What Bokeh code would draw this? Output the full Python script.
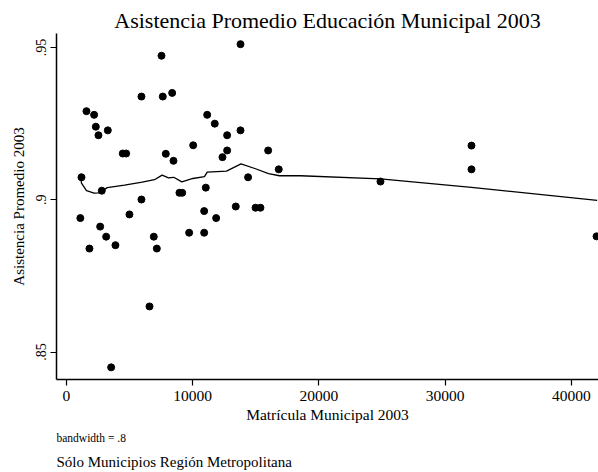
from bokeh.plotting import figure
from bokeh.models import Range1d, FixedTicker, Title
from bokeh.embed import file_html
from bokeh.resources import INLINE

# Municipal enrolment (2003) and average attendance, one entry per comuna
matricula = [1100, 1190, 1585, 2190, 2325, 2535, 3275, 2800, 2670, 3145,
             4460, 4730, 5940, 5940, 4990, 6920, 7530, 7630, 8375, 7870,
             8480, 8950, 9170, 9720, 10040, 10910, 11040, 10910, 11860, 11150,
             11750, 12730, 12730, 12360, 13790, 13790, 13415, 14390, 14980, 15370,
             15980, 16820, 24880, 32090, 32090, 42000, 1820, 3880, 7160, 6580,
             3540]
asistencia = [0.8940, 0.9074, 0.9291, 0.9279, 0.9240, 0.9212, 0.9228, 0.9030, 0.8912, 0.8879,
              0.9152, 0.9152, 0.9339, 0.9001, 0.8952, 0.8879, 0.9473, 0.9339, 0.9351, 0.9151,
              0.9128, 0.9023, 0.9023, 0.8892, 0.9179, 0.8892, 0.9040, 0.8963, 0.8940, 0.9279,
              0.9250, 0.9212, 0.9162, 0.9140, 0.9511, 0.9228, 0.8978, 0.9074, 0.8974, 0.8974,
              0.9162, 0.9100, 0.9060, 0.9178, 0.9100, 0.8880, 0.8840, 0.8851, 0.8840, 0.8650,
              0.8450]

# Lowess smooth (bandwidth .8) evaluated along enrolment
suav_x = [1100, 1190, 1585, 2190, 2535, 2830, 3225, 4600, 6000, 6970,
          7580, 8080, 8500, 9140, 10020, 10935, 11150, 12680, 13830, 14980,
          16010, 16880, 18540, 24880, 32090, 42050]
suav_y = [0.9085, 0.9055, 0.9030, 0.9022, 0.9023, 0.9029, 0.9040, 0.9048, 0.9058, 0.9066,
          0.9081, 0.9072, 0.9074, 0.9059, 0.9070, 0.9076, 0.9091, 0.9094, 0.9118, 0.9102,
          0.9086, 0.9079, 0.9079, 0.9069, 0.9041, 0.8998]

x_ticks = [0, 10000, 20000, 30000, 40000]
x_tick_labels = ["0", "10000", "20000", "30000", "40000"]
y_ticks = [0.85, 0.9, 0.95]
y_tick_labels = [".85", ".9", ".95"]

FONT = "Liberation Serif"

p = figure(width=598, height=472, output_backend="svg", toolbar_location=None,
           x_range=Range1d(-790, 42155), y_range=Range1d(0.84101, 0.9546),
           min_border_left=56, min_border_right=0, min_border_top=33,
           min_border_bottom=93)

p.title.text = "Asistencia Promedio Educación Municipal 2003"
p.title.text_font = FONT
p.title.text_font_size = "22px"
p.title.text_font_style = "normal"
p.title.text_color = "black"
p.title.align = "center"
p.title.standoff = 2
p.title.offset = 0

p.line(suav_x, suav_y, line_color="black", line_width=1.3)
p.scatter(matricula, asistencia, size=7, fill_color="black", line_color="black")

p.grid.visible = False
p.outline_line_color = None
p.background_fill_color = "white"
p.border_fill_color = "white"

for ax in (p.xaxis[0], p.yaxis[0]):
    ax.axis_line_color = "black"
    ax.axis_line_width = 1.5
    ax.major_tick_line_color = "black"
    ax.major_tick_line_width = 1.2
    ax.major_tick_in = 0
    ax.major_tick_out = 6
    ax.minor_tick_line_color = None
    ax.major_label_text_font = FONT
    ax.major_label_text_color = "black"
    ax.axis_label_text_font = FONT
    ax.axis_label_text_font_style = "normal"
    ax.axis_label_text_color = "black"

p.xaxis.ticker = FixedTicker(ticks=x_ticks)
p.xaxis.major_label_overrides = dict(zip(x_ticks, x_tick_labels))
p.xaxis.major_label_text_font_size = "15.5px"
p.xaxis.major_label_standoff = 5
p.xaxis.axis_label = "Matrícula Municipal 2003"
p.xaxis.axis_label_text_font_size = "15.5px"
p.xaxis.axis_label_standoff = 2

p.yaxis.ticker = FixedTicker(ticks=y_ticks)
p.yaxis.major_label_overrides = dict(zip(y_ticks, y_tick_labels))
p.yaxis.major_label_text_font_size = "14px"
p.yaxis.major_label_orientation = "vertical"
p.yaxis.major_label_standoff = 4
p.yaxis.axis_label = "Asistencia Promedio 2003"
p.yaxis.axis_label_text_font_size = "15px"
p.yaxis.axis_label_standoff = 7

p.add_layout(Title(text="bandwidth = .8", text_font=FONT, text_font_size="11.5px",
                   text_font_style="normal", text_color="black", align="left",
                   standoff=9), "below")
p.add_layout(Title(text="Sólo Municipios Región Metropolitana", text_font=FONT,
                   text_font_size="15px", text_font_style="normal", text_color="black",
                   align="left", standoff=6), "below")

open("out.html", "w").write(file_html(p, INLINE))
